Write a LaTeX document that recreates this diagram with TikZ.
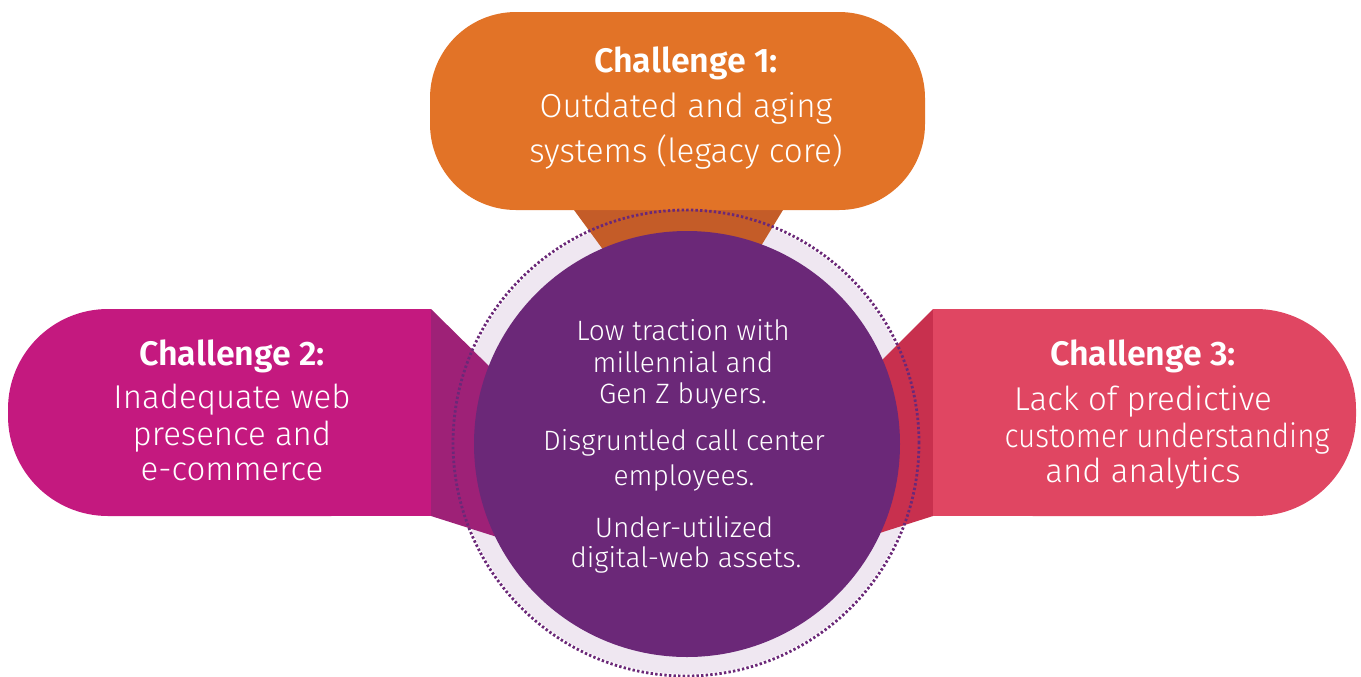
\documentclass[tikz,border=0pt]{standalone}
\usepackage{fontspec}
\IfFontExistsTF{Fira Sans Light}{%
  \setmainfont{Fira Sans Light}[BoldFont={Fira Sans SemiBold}]%
}{%
  \setmainfont{Fira Sans}%
}
\definecolor{orangeA}{HTML}{E27327}
\definecolor{orangeB}{HTML}{C45C28}
\definecolor{magA}{HTML}{C4197F}
\definecolor{magB}{HTML}{9E2177}
\definecolor{redA}{HTML}{E04662}
\definecolor{redB}{HTML}{C8304E}
\definecolor{purp}{HTML}{6B2878}
\definecolor{lav}{HTML}{EFE7F1}
\tikzset{
  ttl/.style={text=white,inner sep=0pt,anchor=base,font=\fontsize{17}{20}\selectfont\bfseries},
  bodyA/.style={text=white,inner sep=0pt,anchor=base,font=\fontsize{16.6}{20}\selectfont},
  bodyB/.style={text=white,inner sep=0pt,anchor=base,font=\fontsize{16.5}{20}\selectfont},
  circtxt/.style={text=white,inner sep=0pt,anchor=base,font=\fontsize{14}{17}\selectfont},
}
\begin{document}
\begin{tikzpicture}[x=0.5pt,y=-0.5pt]
\useasboundingbox (0,0) rectangle (1361,676);
% halo
\fill[lav] (686,443) circle[radius=115.5pt];
% connectors (trapezoids)
\fill[orangeB] (574,210) -- (783,210) -- (728,300) -- (640,300) -- cycle;
\fill[magB] (431,309) -- (560,436) -- (560,557) -- (431,516) -- cycle;
\fill[redB] (933,309) -- (820,422) -- (820,552) -- (933,516) -- cycle;
% boxes
\fill[orangeA,rounded corners=43pt] (430,12) rectangle (925,210);
\fill[magA,rounded corners=50pt] (431,309) -- (8,309) -- (8,516) -- (431,516) -- cycle;
\fill[magA] (300,309) rectangle (431,516);
\fill[redA,rounded corners=50pt] (933,309) -- (1356,309) -- (1356,516) -- (933,516) -- cycle;
\fill[redA] (933,309) rectangle (1060,516);
% dotted ring
\draw[purp,line width=1.4pt,dash pattern=on 1.2pt off 1.1pt] (686,443) circle[radius=116.5pt];
% core
\fill[purp] (687,444) circle[radius=106.5pt];
% texts challenge 1
\node[ttl]   (c1t) at (686,72)  {Challenge 1:};
\node[bodyA] (c1a) at (686,117) {Outdated and aging};
\node[bodyA] (c1b) at (686,162) {systems (legacy core)};
% challenge 2
\node[ttl]   (c2t) at (232,365) {Challenge 2:};
\node[bodyB] (c2a) at (232,408) {Inadequate web};
\node[bodyB] (c2b) at (232,445) {presence and};
\node[bodyB] (c2c) at (232,480) {e-commerce};
% challenge 3
\node[ttl]   (c3t) at (1143,365) {Challenge 3:};
\node[bodyB] (c3a) at (1143,410) {Lack of predictive};
\node[bodyB] (c3b) at (1167,447) {\scalebox{0.9}[1]{customer understanding}};
\node[bodyB] (c3c) at (1143,482) {and analytics};
% circle text
\node[circtxt] (m1) at (683,340) {Low traction with};
\node[circtxt] (m2) at (683,372) {millennial and};
\node[circtxt] (m3) at (683,403) {Gen Z buyers.};
\node[circtxt] (m4) at (684,450) {Disgruntled call center};
\node[circtxt] (m5) at (684,485) {employees.};
\node[circtxt] (m6) at (684,537) {Under-utilized};
\node[circtxt] (m7) at (686,567) {digital-web assets.};
\end{tikzpicture}
\end{document}
